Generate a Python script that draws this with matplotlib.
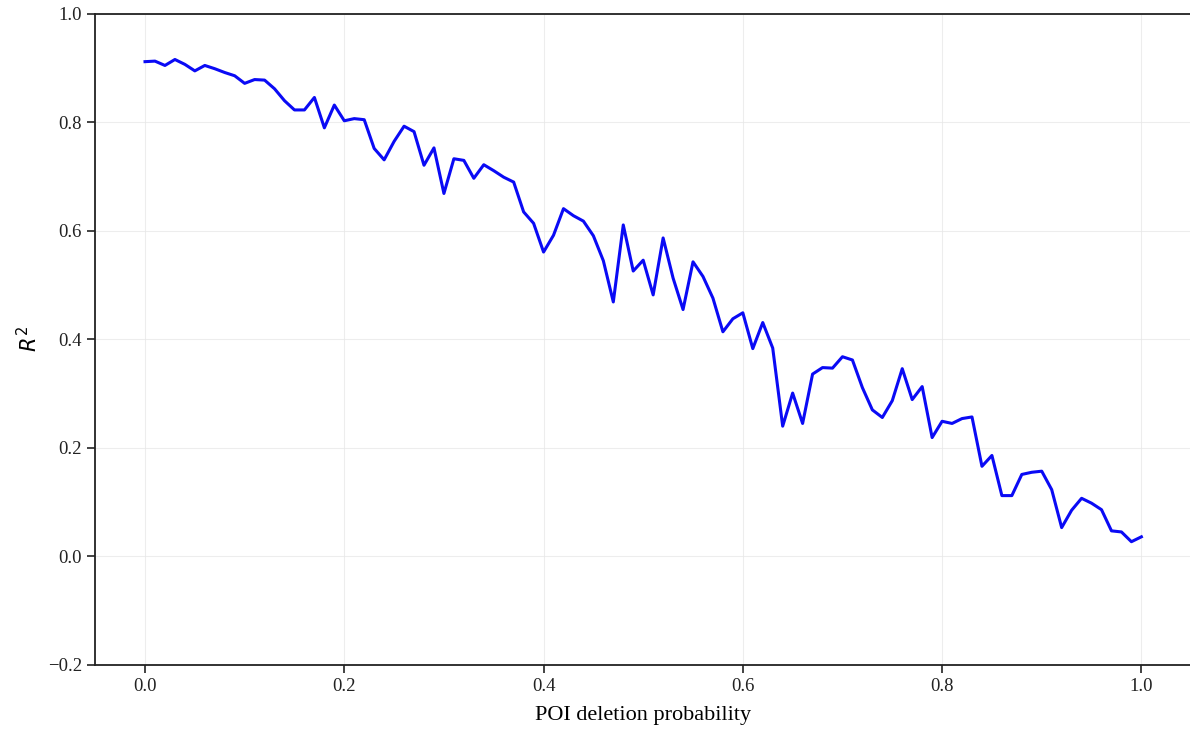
import numpy as np
import matplotlib
matplotlib.use('Agg')
import matplotlib.pyplot as plt

plt.rcParams['font.family'] = ['Liberation Serif', 'DejaVu Serif']
plt.rcParams['mathtext.fontset'] = 'dejavusans'

# deletion probability sweep and resulting R^2
deletion_prob = [round(0.01 * i, 2) for i in range(101)]
r2_values = [
    0.912, 0.913, 0.905, 0.916, 0.907, 0.895, 0.905, 0.899, 0.892, 0.886,
    0.872, 0.879, 0.878, 0.862, 0.840, 0.823, 0.823, 0.846, 0.790, 0.832,
    0.803, 0.807, 0.805, 0.752, 0.731, 0.765, 0.793, 0.783, 0.721, 0.753,
    0.669, 0.733, 0.730, 0.697, 0.722, 0.711, 0.699, 0.690, 0.635, 0.614,
    0.561, 0.592, 0.641, 0.628, 0.618, 0.591, 0.545, 0.469, 0.611, 0.526,
    0.546, 0.482, 0.587, 0.513, 0.455, 0.543, 0.516, 0.476, 0.414, 0.438,
    0.449, 0.383, 0.431, 0.384, 0.240, 0.301, 0.245, 0.336, 0.348, 0.347,
    0.368, 0.362, 0.311, 0.270, 0.256, 0.287, 0.346, 0.289, 0.313, 0.219,
    0.249, 0.245, 0.254, 0.257, 0.166, 0.186, 0.112, 0.112, 0.151, 0.155,
    0.157, 0.123, 0.053, 0.085, 0.107, 0.098, 0.086, 0.047, 0.045, 0.027,
    0.036,
]

fig = plt.figure(figsize=(11.9, 7.33), dpi=100)
ax = fig.add_axes([0.080, 0.093, 0.921, 0.888])

ax.plot(deletion_prob, r2_values, color='#0a0af5', linewidth=2.2)

ax.set_ylim(-0.2, 1.0)
ax.set_xlim(-0.05, 1.05)
ax.set_xticks([0.0, 0.2, 0.4, 0.6, 0.8, 1.0])
ax.set_yticks([-0.2, 0.0, 0.2, 0.4, 0.6, 0.8, 1.0])
ax.grid(True, color='#e6e6e6', linewidth=0.8, alpha=0.7)

for sp in ax.spines.values():
    sp.set_color('#222222')
    sp.set_linewidth(1.3)
ax.tick_params(axis='both', labelsize=13.5, length=6, width=1.2, colors='#222222')

ax.set_xlabel('POI deletion probability', fontsize=16, labelpad=8)
ax.set_ylabel(r'$R^2$', fontsize=15, labelpad=4)

plt.savefig('out.png', dpi=100)
